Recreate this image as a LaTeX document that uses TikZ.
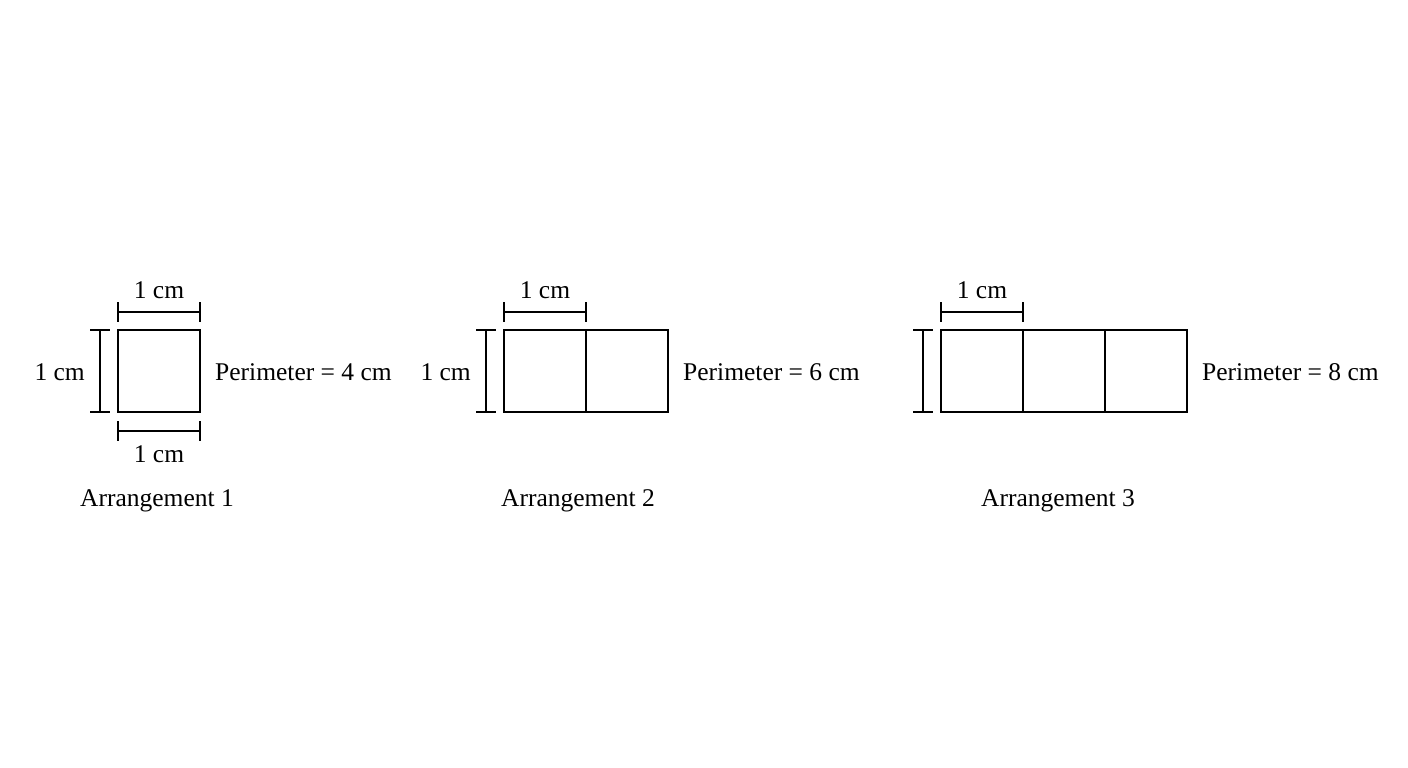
\documentclass[tikz,border=0pt]{standalone}
\usepackage{fontspec}
\setmainfont{Liberation Serif}
\begin{document}
\begin{tikzpicture}[x=1pt,y=-1pt,
  edge/.style={line width=2.3pt,line cap=butt},
  lbl/.style={font=\fontsize{25.5}{30}\selectfont,inner sep=0pt,anchor=base},
  lblw/.style={font=\fontsize{25.5}{30}\selectfont,inner sep=0pt,anchor=base west},
  lble/.style={font=\fontsize{25.5}{30}\selectfont,inner sep=0pt,anchor=base east}]
\useasboundingbox (0,0) rectangle (1408,768);
% Arrangement 1
\draw[edge] (118,330) rectangle (200,412);
\coordinate (t1a) at (118,312); \coordinate (t1b) at (200,312);
\draw[edge] (t1a) -- (t1b);
\draw[edge] (118,302) -- (118,322); \draw[edge] (200,302) -- (200,322);
\coordinate (b1a) at (118,431); \coordinate (b1b) at (200,431);
\draw[edge] (b1a) -- (b1b);
\draw[edge] (118,421) -- (118,441); \draw[edge] (200,421) -- (200,441);
\coordinate (l1a) at (100,330); \coordinate (l1b) at (100,412);
\draw[edge] (l1a) -- (l1b);
\draw[edge] (90,330) -- (110,330); \draw[edge] (90,412) -- (110,412);
\node[lbl] (w1) at (159,298) {1 cm};
\node[lbl] (wb1) at (159,462) {1 cm};
\node[lble] (h1) at (85,380) {1 cm};
\node[lblw] (p1) at (215,380) {Perimeter = 4 cm};
\node[lbl] (a1) at (157,506) {Arrangement 1};
% Arrangement 2
\draw[edge] (504,330) rectangle (668,412);
\draw[edge] (586,330) -- (586,412);
\coordinate (t2a) at (504,312); \coordinate (t2b) at (586,312);
\draw[edge] (t2a) -- (t2b);
\draw[edge] (504,302) -- (504,322); \draw[edge] (586,302) -- (586,322);
\coordinate (l2a) at (486,330); \coordinate (l2b) at (486,412);
\draw[edge] (l2a) -- (l2b);
\draw[edge] (476,330) -- (496,330); \draw[edge] (476,412) -- (496,412);
\node[lbl] (w2) at (545,298) {1 cm};
\node[lble] (h2) at (471,380) {1 cm};
\node[lblw] (p2) at (683,380) {Perimeter = 6 cm};
\node[lbl] (a2) at (578,506) {Arrangement 2};
% Arrangement 3
\draw[edge] (941,330) rectangle (1187,412);
\draw[edge] (1023,330) -- (1023,412);
\draw[edge] (1105,330) -- (1105,412);
\coordinate (t3a) at (941,312); \coordinate (t3b) at (1023,312);
\draw[edge] (t3a) -- (t3b);
\draw[edge] (941,302) -- (941,322); \draw[edge] (1023,302) -- (1023,322);
\coordinate (l3a) at (923,330); \coordinate (l3b) at (923,412);
\draw[edge] (l3a) -- (l3b);
\draw[edge] (913,330) -- (933,330); \draw[edge] (913,412) -- (933,412);
\node[lbl] (w3) at (982,298) {1 cm};
\node[lblw] (p3) at (1202,380) {Perimeter = 8 cm};
\node[lbl] (a3) at (1058,506) {Arrangement 3};
\end{tikzpicture}
\end{document}
